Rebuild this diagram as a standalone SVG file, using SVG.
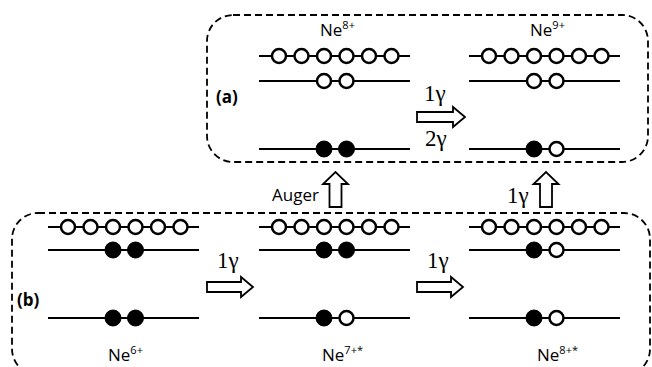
<svg xmlns="http://www.w3.org/2000/svg" width="652" height="367" viewBox="0 0 652 367">
<style>
.box{fill:none;stroke:#000;stroke-width:1.8;stroke-dasharray:7 4}
.lvl{stroke:#000;stroke-width:2.2}
.o{fill:#fff;stroke:#000;stroke-width:2.5}
.f{fill:#000;stroke:#000;stroke-width:1}
.arr{fill:#fff;stroke:#000;stroke-width:1.8;stroke-linejoin:miter}
.lab{font-family:"Open Sans","Liberation Sans",sans-serif;font-size:17px;fill:#000}
.sup{font-size:11px}
.g{font-family:"Liberation Serif","DejaVu Serif",serif;font-size:23px;fill:#000}
.pl{font-family:"Open Sans","Liberation Sans",sans-serif;font-size:17px;font-weight:bold;fill:#000}
</style>
<defs>
<g id="top6">
<line class="lvl" x1="0" y1="0" x2="151" y2="0"/>
<circle class="o" cx="20" cy="0" r="7"/>
<circle class="o" cx="42.5" cy="0" r="7"/>
<circle class="o" cx="65" cy="0" r="7"/>
<circle class="o" cx="87.5" cy="0" r="7"/>
<circle class="o" cx="110" cy="0" r="7"/>
<circle class="o" cx="132.5" cy="0" r="7"/>
</g>
<line id="ln" class="lvl" x1="0" y1="0" x2="151" y2="0"/>
</defs>

<g id="box-a"><rect class="box" x="207" y="15" width="441" height="147" rx="26" ry="26"/></g>
<g id="box-b"><rect class="box" x="12" y="213" width="638" height="162" rx="26" ry="26"/></g>

<g id="ne8">
<text class="lab" x="320" y="36">Ne<tspan class="sup" dy="-7">8+</tspan></text>
<use href="#top6" x="259" y="56"/>
<use href="#ln" x="259" y="81"/>
<circle class="o" cx="324" cy="81" r="7"/>
<circle class="o" cx="346.5" cy="81" r="7"/>
<use href="#ln" x="259" y="149"/>
<circle class="f" cx="324" cy="149" r="8"/>
<circle class="f" cx="346.5" cy="149" r="8"/>
</g>

<g id="ne9">
<text class="lab" x="530" y="36">Ne<tspan class="sup" dy="-7">9+</tspan></text>
<use href="#top6" x="469" y="56"/>
<use href="#ln" x="469" y="81"/>
<circle class="o" cx="534" cy="81" r="7"/>
<circle class="o" cx="556.5" cy="81" r="7"/>
<use href="#ln" x="469" y="149"/>
<circle class="f" cx="534" cy="149" r="8"/>
<circle class="o" cx="556.5" cy="149" r="7"/>
</g>

<g id="ne6">
<text class="lab" x="108" y="361">Ne<tspan class="sup" dy="-7">6+</tspan></text>
<use href="#top6" x="48" y="227"/>
<use href="#ln" x="48" y="250"/>
<circle class="f" cx="113" cy="250" r="8"/>
<circle class="f" cx="135.5" cy="250" r="8"/>
<use href="#ln" x="48" y="318"/>
<circle class="f" cx="113" cy="318" r="8"/>
<circle class="f" cx="135.5" cy="318" r="8"/>
</g>

<g id="ne7">
<text class="lab" x="322" y="361">Ne<tspan class="sup" dy="-7">7+*</tspan></text>
<use href="#top6" x="259" y="227"/>
<use href="#ln" x="259" y="250"/>
<circle class="f" cx="324" cy="250" r="8"/>
<circle class="f" cx="346.5" cy="250" r="8"/>
<use href="#ln" x="259" y="318"/>
<circle class="f" cx="324" cy="318" r="8"/>
<circle class="o" cx="346.5" cy="318" r="7"/>
</g>

<g id="ne8s">
<text class="lab" x="537" y="361">Ne<tspan class="sup" dy="-7">8+*</tspan></text>
<use href="#top6" x="469" y="227"/>
<use href="#ln" x="469" y="250"/>
<circle class="f" cx="534" cy="250" r="8"/>
<circle class="o" cx="556.5" cy="250" r="7"/>
<use href="#ln" x="469" y="318"/>
<circle class="f" cx="534" cy="318" r="8"/>
<circle class="o" cx="556.5" cy="318" r="7"/>
</g>

<g id="labels">
<text class="pl" x="216" y="103">(a)</text>
<text class="pl" x="17" y="306">(b)</text>
</g>

<g id="connectors">
<path class="arr" d="M417,112 H453 V107 L465,117 L453,127 V122 H417 Z"/>
<text class="g" x="424" y="101">1γ</text>
<text class="g" x="425" y="146">2γ</text>
<path class="arr" d="M207,282 H241 V277 L253,287 L241,297 V292 H207 Z"/>
<text class="g" x="217" y="268">1γ</text>
<path class="arr" d="M417,282 H451 V277 L463,287 L451,297 V292 H417 Z"/>
<text class="g" x="427" y="268">1γ</text>
<path class="arr" d="M329.5,207 V184 H323 L335.5,172 L348,184 H341.5 V207 Z"/>
<text class="lab" x="319" y="201" text-anchor="end">Auger</text>
<path class="arr" d="M540,207 V184 H533.5 L546,172 L558.5,184 H552 V207 Z"/>
<text class="g" x="507" y="203">1γ</text>
</g>
</svg>
